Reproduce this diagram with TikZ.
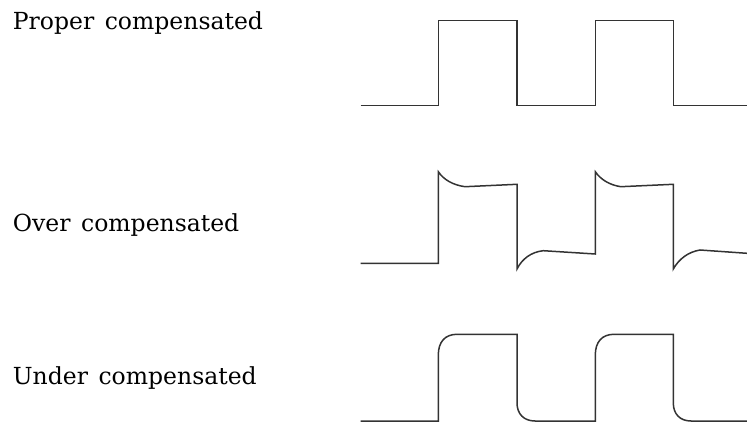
\documentclass[tikz,border=0pt]{standalone}
\usepackage{fontspec}
\newfontfamily\lblfont{DejaVu Serif}
\begin{document}
\begin{tikzpicture}[x=1pt,y=1pt,
  wave/.style={line width=1.5pt,draw=black!80,line join=miter},
  lbl/.style={anchor=base west,inner sep=0pt,font=\lblfont\fontsize{23.5}{28}\selectfont,text=black}]
\useasboundingbox (0,0) rectangle (747,-425);
% labels
\node[lbl] (lp) at (12.7,-29.3) {Proper\hspace{0.45em}compensated};
\node[lbl] (lo) at (12.7,-231.7) {Over\hspace{0.45em}compensated};
\node[lbl] (lu) at (12.7,-384.3) {Under\hspace{0.45em}compensated};
% proper
\draw[wave] (360.7,-105.3) -- (438.3,-105.3) -- (438.3,-20.3) -- (517,-20.3) -- (517,-105.3)
  -- (595.3,-105.3) -- (595.3,-20.3) -- (673.3,-20.3) -- (673.3,-105.3) -- (747,-105.3);
% over
\draw[wave] (360.7,-263.3) -- (438.3,-263.3) -- (438.3,-171.7)
  .. controls (444,-180) and (453,-185) .. (465,-186.7) -- (517,-184.3) -- (517,-269)
  .. controls (522,-259) and (531,-252) .. (543.3,-250.7) -- (595.3,-254) -- (595.3,-171.7)
  .. controls (601,-180) and (610,-185) .. (620.7,-186.7) -- (673.3,-184.3) -- (673.3,-269)
  .. controls (679,-259) and (688,-252) .. (700,-250) -- (747,-253.3);
% under
\draw[wave] (360.7,-421) -- (438.3,-421) -- (438.3,-355)
  .. controls (438.3,-342) and (445,-334.3) .. (457,-334.3) -- (517,-334.3) -- (517,-403)
  .. controls (517,-414) and (524,-421) .. (535,-421) -- (595.3,-421) -- (595.3,-355)
  .. controls (595.3,-342) and (602,-334.3) .. (614,-334.3) -- (673.3,-334.3) -- (673.3,-403)
  .. controls (673.3,-414) and (680,-421) .. (691,-421) -- (747,-421);
\end{tikzpicture}
\end{document}
